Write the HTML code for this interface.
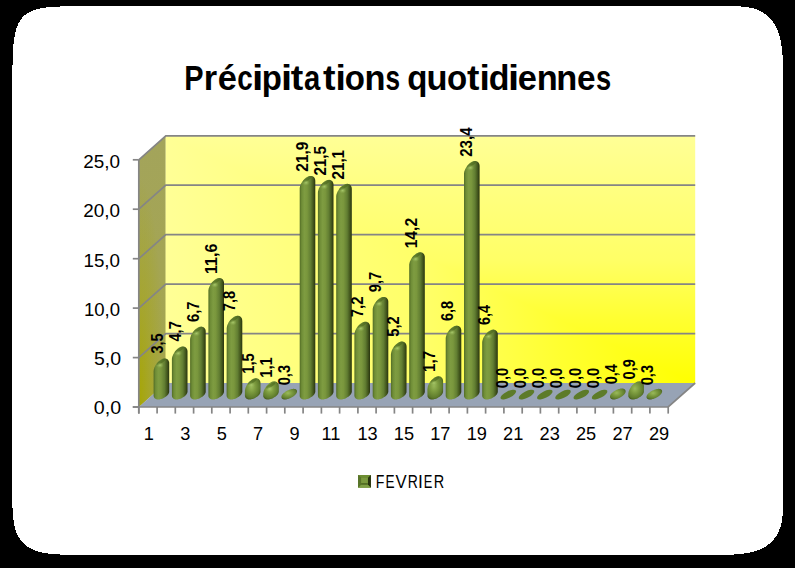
<!DOCTYPE html>
<html><head><meta charset="utf-8"><style>
html,body{margin:0;padding:0;background:#000;}
body{width:795px;height:568px;overflow:hidden;font-family:"Liberation Sans",sans-serif;}
svg{display:block;}
</style></head><body>
<svg width="795" height="568" viewBox="0 0 795 568">
<defs>
<linearGradient id="gside" x1="0" y1="0" x2="0" y2="1">
 <stop offset="0" stop-color="#a3a45b"/><stop offset="1" stop-color="#a5a64c"/>
</linearGradient>
<radialGradient id="gside2" gradientUnits="userSpaceOnUse" cx="0" cy="0" r="1" gradientTransform="translate(139 407) scale(26 230)">
 <stop offset="0" stop-color="#a6a600" stop-opacity="0.95"/><stop offset="0.5" stop-color="#a6a60c" stop-opacity="0.45"/><stop offset="1" stop-color="#a6a60c" stop-opacity="0"/>
</radialGradient>
<linearGradient id="gbackv" x1="0" y1="1" x2="0" y2="0"><stop offset="0" stop-color="#ffff00"/><stop offset="0.05" stop-color="#ffff0a"/><stop offset="0.255" stop-color="#ffff30"/><stop offset="0.5" stop-color="#ffff66"/><stop offset="0.78" stop-color="#ffff80"/><stop offset="0.94" stop-color="#ffff90"/><stop offset="1" stop-color="#ffff96"/></linearGradient>
<linearGradient id="gbackh" x1="1" y1="0" x2="0" y2="0"><stop offset="0" stop-color="#ffff00"/><stop offset="0.05" stop-color="#ffff0a"/><stop offset="0.255" stop-color="#ffff30"/><stop offset="0.5" stop-color="#ffff66"/><stop offset="0.78" stop-color="#ffff80"/><stop offset="0.94" stop-color="#ffff90"/><stop offset="1" stop-color="#ffff96"/></linearGradient>
<linearGradient id="gbar" x1="0" y1="0" x2="1" y2="0">
 <stop offset="0" stop-color="#526c25"/><stop offset="0.13" stop-color="#6f8d37"/><stop offset="0.3" stop-color="#7e9c41"/><stop offset="0.47" stop-color="#7a973d"/><stop offset="0.7" stop-color="#627e32"/><stop offset="0.88" stop-color="#41541c"/><stop offset="1" stop-color="#28340f"/>
</linearGradient>
<radialGradient id="gsmall" cx="0.42" cy="0.4" r="0.65">
 <stop offset="0" stop-color="#9aba5a"/><stop offset="0.4" stop-color="#7c9b3f"/><stop offset="0.8" stop-color="#5f7c2d"/><stop offset="1" stop-color="#43571a"/>
</radialGradient>
<radialGradient id="ghl">
 <stop offset="0" stop-color="#aacb6c" stop-opacity="0.95"/><stop offset="1" stop-color="#8cab50" stop-opacity="0"/>
</radialGradient>
</defs>
<path d="M12.3,137.5 L12.3,87.3 L12.3,77.3 L12.4,70.5 L12.5,65.2 L12.6,60.8 L12.7,57.1 L12.8,53.8 L13.0,50.8 L13.1,48.1 L13.3,45.6 L13.6,43.3 L13.8,41.2 L14.1,39.2 L14.4,37.4 L14.7,35.6 L15.0,34.0 L15.4,32.4 L15.7,30.9 L16.1,29.5 L16.6,28.2 L17.0,26.9 L17.5,25.7 L18.0,24.5 L18.5,23.4 L19.1,22.3 L19.7,21.3 L20.3,20.4 L20.9,19.4 L21.6,18.5 L22.3,17.7 L23.0,16.9 L23.8,16.1 L24.6,15.4 L25.5,14.7 L26.4,14.0 L27.3,13.3 L28.3,12.7 L29.3,12.2 L30.3,11.6 L31.4,11.1 L32.6,10.6 L33.8,10.1 L35.1,9.7 L36.5,9.3 L37.9,8.9 L39.5,8.6 L41.1,8.2 L42.8,7.9 L44.7,7.7 L46.7,7.4 L48.8,7.2 L51.2,7.0 L53.7,6.8 L56.6,6.6 L59.9,6.5 L63.7,6.4 L68.3,6.3 L74.2,6.2 L83.0,6.2 L126.7,6.2 L725.9,6.2 L731.7,6.2 L734.9,6.3 L737.5,6.3 L739.8,6.4 L741.8,6.6 L743.7,6.8 L745.5,7.0 L747.2,7.2 L748.8,7.5 L750.4,7.8 L751.8,8.1 L753.2,8.4 L754.6,8.8 L755.9,9.2 L757.2,9.7 L758.4,10.2 L759.6,10.7 L760.7,11.2 L761.8,11.8 L762.9,12.4 L763.9,13.1 L764.9,13.8 L765.9,14.5 L766.8,15.2 L767.7,16.0 L768.6,16.8 L769.5,17.6 L770.3,18.5 L771.1,19.4 L771.8,20.3 L772.6,21.3 L773.3,22.3 L774.0,23.3 L774.7,24.4 L775.3,25.5 L775.9,26.7 L776.5,27.9 L777.0,29.1 L777.6,30.4 L778.1,31.7 L778.6,33.0 L779.0,34.4 L779.4,35.9 L779.9,37.4 L780.2,38.9 L780.6,40.5 L780.9,42.2 L781.2,43.9 L781.5,45.7 L781.8,47.5 L782.0,49.5 L782.2,51.5 L782.4,53.6 L782.6,55.9 L782.7,58.3 L782.8,61.0 L782.9,63.8 L783.0,67.1 L783.0,71.1 L783.0,78.5 L783.0,499.9 L783.0,505.0 L782.9,507.9 L782.9,510.3 L782.8,512.4 L782.6,514.4 L782.5,516.2 L782.3,517.9 L782.0,519.6 L781.8,521.1 L781.5,522.6 L781.2,524.0 L780.8,525.4 L780.5,526.7 L780.1,528.0 L779.6,529.2 L779.1,530.4 L778.7,531.5 L778.1,532.7 L777.6,533.7 L777.0,534.8 L776.4,535.8 L775.7,536.8 L775.0,537.8 L774.3,538.7 L773.6,539.6 L772.8,540.5 L772.0,541.3 L771.2,542.1 L770.3,542.9 L769.4,543.7 L768.5,544.4 L767.5,545.1 L766.5,545.8 L765.5,546.5 L764.4,547.1 L763.3,547.7 L762.2,548.3 L761.0,548.8 L759.8,549.4 L758.6,549.9 L757.3,550.4 L755.9,550.8 L754.6,551.2 L753.2,551.6 L751.7,552.0 L750.2,552.4 L748.7,552.7 L747.0,553.0 L745.4,553.3 L743.6,553.6 L741.8,553.8 L739.9,554.0 L738.0,554.2 L735.9,554.4 L733.6,554.5 L731.2,554.6 L728.6,554.7 L725.7,554.8 L722.1,554.8 L715.9,554.8 L86.8,554.8 L74.6,554.8 L69.6,554.8 L65.7,554.7 L62.5,554.6 L59.7,554.5 L57.1,554.4 L54.8,554.2 L52.6,554.0 L50.6,553.8 L48.7,553.6 L46.9,553.4 L45.2,553.1 L43.6,552.8 L42.0,552.5 L40.5,552.1 L39.1,551.8 L37.8,551.4 L36.5,550.9 L35.2,550.5 L34.0,550.0 L32.8,549.5 L31.7,549.0 L30.6,548.5 L29.6,547.9 L28.6,547.3 L27.6,546.7 L26.7,546.0 L25.8,545.3 L24.9,544.6 L24.1,543.9 L23.3,543.1 L22.5,542.3 L21.8,541.5 L21.1,540.6 L20.4,539.7 L19.7,538.8 L19.1,537.8 L18.5,536.8 L18.0,535.7 L17.4,534.7 L16.9,533.5 L16.4,532.4 L16.0,531.1 L15.6,529.9 L15.2,528.6 L14.8,527.2 L14.5,525.7 L14.1,524.2 L13.8,522.7 L13.6,521.0 L13.3,519.2 L13.1,517.3 L12.9,515.3 L12.8,513.2 L12.6,510.8 L12.5,508.2 L12.4,505.2 L12.4,501.6 L12.3,496.9 L12.3,485.6Z" fill="#ffffff" shape-rendering="crispEdges"/>
<g font-family="Liberation Sans" font-weight="bold" font-size="32.6" fill="#000"><text transform="translate(184.26 89.7) scale(0.889 1.065)">P</text><text transform="translate(203.83 89.7) scale(1.055 1.065)">r</text><text transform="translate(217.86 89.7) scale(1.054 1.065)">é</text><text transform="translate(237.21 89.7) scale(0.855 1.065)">c</text><text transform="translate(252.05 89.7) scale(1.252 1.065)">i</text><text transform="translate(261.83 89.7) scale(1.011 1.065)">p</text><text transform="translate(280.90 89.7) scale(1.230 1.065)">i</text><text transform="translate(290.74 89.7) scale(1.153 1.065)">t</text><text transform="translate(303.94 89.7) scale(0.897 1.065)">a</text><text transform="translate(322.94 89.7) scale(1.153 1.065)">t</text><text transform="translate(335.40 89.7) scale(1.140 1.065)">i</text><text transform="translate(344.81 89.7) scale(1.013 1.065)">o</text><text transform="translate(364.43 89.7) scale(1.054 1.065)">n</text><text transform="translate(385.38 89.7) scale(0.805 1.065)">s</text><text transform="translate(407.15 89.7) scale(1.012 1.065)">q</text><text transform="translate(426.47 89.7) scale(1.054 1.065)">u</text><text transform="translate(447.01 89.7) scale(1.013 1.065)">o</text><text transform="translate(466.95 89.7) scale(1.143 1.065)">t</text><text transform="translate(479.40 89.7) scale(1.140 1.065)">i</text><text transform="translate(488.71 89.7) scale(1.041 1.065)">d</text><text transform="translate(507.90 89.7) scale(1.230 1.065)">i</text><text transform="translate(517.86 89.7) scale(1.054 1.065)">e</text><text transform="translate(536.63 89.7) scale(1.054 1.065)">n</text><text transform="translate(556.33 89.7) scale(1.054 1.065)">n</text><text transform="translate(577.00 89.7) scale(1.023 1.065)">e</text><text transform="translate(595.94 89.7) scale(0.837 1.065)">s</text></g>
<polygon points="138.8,159.8 165.8,135.8 165.8,383.0 138.8,407.0" fill="url(#gside)"/>
<polygon points="138.8,159.8 165.8,135.8 165.8,383.0 138.8,407.0" fill="url(#gside2)"/>
<rect x="165.8" y="135.8" width="529.4" height="247.2" fill="url(#gbackv)"/>
<polygon points="165.8,135.8 165.8,383.0 695.2,383.0" fill="url(#gbackh)"/>
<polygon points="138.8,407.0 165.8,383.0 695.2,383.0 668.2,407.0" fill="#97a3b5"/>
<polyline points="138.8,357.6 165.8,333.6 695.2,333.6" fill="none" stroke="#858585" stroke-width="1.7"/>
<polyline points="138.8,308.1 165.8,284.1 695.2,284.1" fill="none" stroke="#858585" stroke-width="1.7"/>
<polyline points="138.8,258.7 165.8,234.7 695.2,234.7" fill="none" stroke="#858585" stroke-width="1.7"/>
<polyline points="138.8,209.2 165.8,185.2 695.2,185.2" fill="none" stroke="#858585" stroke-width="1.7"/>
<polyline points="138.8,159.8 165.8,135.8 695.2,135.8" fill="none" stroke="#858585" stroke-width="1.7"/>
<polyline points="132.8,407.0 668.2,407.0 695.2,383.0" fill="none" stroke="#858585" stroke-width="1.7"/>
<line x1="138.8" y1="159.8" x2="138.8" y2="413.6" stroke="#858585" stroke-width="1.7"/>
<line x1="132.8" y1="407.0" x2="138.8" y2="407.0" stroke="#858585" stroke-width="1.7"/>
<text x="93.8" y="413.5" font-family="Liberation Sans" font-size="18.2" fill="#000" textLength="27.3" lengthAdjust="spacingAndGlyphs">0,0</text>
<line x1="132.8" y1="357.6" x2="138.8" y2="357.6" stroke="#858585" stroke-width="1.7"/>
<text x="94.0" y="364.9" font-family="Liberation Sans" font-size="18.2" fill="#000" textLength="27.1" lengthAdjust="spacingAndGlyphs">5,0</text>
<line x1="132.8" y1="308.1" x2="138.8" y2="308.1" stroke="#858585" stroke-width="1.7"/>
<text x="83.9" y="315.9" font-family="Liberation Sans" font-size="18.2" fill="#000" textLength="36.1" lengthAdjust="spacingAndGlyphs">10,0</text>
<line x1="132.8" y1="258.7" x2="138.8" y2="258.7" stroke="#858585" stroke-width="1.7"/>
<text x="83.5" y="266.6" font-family="Liberation Sans" font-size="18.2" fill="#000" textLength="36.5" lengthAdjust="spacingAndGlyphs">15,0</text>
<line x1="132.8" y1="209.2" x2="138.8" y2="209.2" stroke="#858585" stroke-width="1.7"/>
<text x="83.3" y="217.3" font-family="Liberation Sans" font-size="18.2" fill="#000" textLength="36.7" lengthAdjust="spacingAndGlyphs">20,0</text>
<line x1="132.8" y1="159.8" x2="138.8" y2="159.8" stroke="#858585" stroke-width="1.7"/>
<text x="83.2" y="168.0" font-family="Liberation Sans" font-size="18.2" fill="#000" textLength="36.8" lengthAdjust="spacingAndGlyphs">25,0</text>
<line x1="138.8" y1="407.0" x2="138.8" y2="413.6" stroke="#858585" stroke-width="1.7"/>
<line x1="157.1" y1="407.0" x2="157.1" y2="413.6" stroke="#858585" stroke-width="1.7"/>
<line x1="175.3" y1="407.0" x2="175.3" y2="413.6" stroke="#858585" stroke-width="1.7"/>
<line x1="193.6" y1="407.0" x2="193.6" y2="413.6" stroke="#858585" stroke-width="1.7"/>
<line x1="211.8" y1="407.0" x2="211.8" y2="413.6" stroke="#858585" stroke-width="1.7"/>
<line x1="230.1" y1="407.0" x2="230.1" y2="413.6" stroke="#858585" stroke-width="1.7"/>
<line x1="248.3" y1="407.0" x2="248.3" y2="413.6" stroke="#858585" stroke-width="1.7"/>
<line x1="266.6" y1="407.0" x2="266.6" y2="413.6" stroke="#858585" stroke-width="1.7"/>
<line x1="284.8" y1="407.0" x2="284.8" y2="413.6" stroke="#858585" stroke-width="1.7"/>
<line x1="303.1" y1="407.0" x2="303.1" y2="413.6" stroke="#858585" stroke-width="1.7"/>
<line x1="321.4" y1="407.0" x2="321.4" y2="413.6" stroke="#858585" stroke-width="1.7"/>
<line x1="339.6" y1="407.0" x2="339.6" y2="413.6" stroke="#858585" stroke-width="1.7"/>
<line x1="357.9" y1="407.0" x2="357.9" y2="413.6" stroke="#858585" stroke-width="1.7"/>
<line x1="376.1" y1="407.0" x2="376.1" y2="413.6" stroke="#858585" stroke-width="1.7"/>
<line x1="394.4" y1="407.0" x2="394.4" y2="413.6" stroke="#858585" stroke-width="1.7"/>
<line x1="412.6" y1="407.0" x2="412.6" y2="413.6" stroke="#858585" stroke-width="1.7"/>
<line x1="430.9" y1="407.0" x2="430.9" y2="413.6" stroke="#858585" stroke-width="1.7"/>
<line x1="449.1" y1="407.0" x2="449.1" y2="413.6" stroke="#858585" stroke-width="1.7"/>
<line x1="467.4" y1="407.0" x2="467.4" y2="413.6" stroke="#858585" stroke-width="1.7"/>
<line x1="485.6" y1="407.0" x2="485.6" y2="413.6" stroke="#858585" stroke-width="1.7"/>
<line x1="503.9" y1="407.0" x2="503.9" y2="413.6" stroke="#858585" stroke-width="1.7"/>
<line x1="522.2" y1="407.0" x2="522.2" y2="413.6" stroke="#858585" stroke-width="1.7"/>
<line x1="540.4" y1="407.0" x2="540.4" y2="413.6" stroke="#858585" stroke-width="1.7"/>
<line x1="558.7" y1="407.0" x2="558.7" y2="413.6" stroke="#858585" stroke-width="1.7"/>
<line x1="576.9" y1="407.0" x2="576.9" y2="413.6" stroke="#858585" stroke-width="1.7"/>
<line x1="595.2" y1="407.0" x2="595.2" y2="413.6" stroke="#858585" stroke-width="1.7"/>
<line x1="613.4" y1="407.0" x2="613.4" y2="413.6" stroke="#858585" stroke-width="1.7"/>
<line x1="631.7" y1="407.0" x2="631.7" y2="413.6" stroke="#858585" stroke-width="1.7"/>
<line x1="649.9" y1="407.0" x2="649.9" y2="413.6" stroke="#858585" stroke-width="1.7"/>
<line x1="668.2" y1="407.0" x2="668.2" y2="413.6" stroke="#858585" stroke-width="1.7"/>
<text x="148.8" y="440.2" font-family="Liberation Sans" font-size="18.2" text-anchor="middle" fill="#000">1</text>
<text x="185.2" y="440.2" font-family="Liberation Sans" font-size="18.2" text-anchor="middle" fill="#000">3</text>
<text x="221.7" y="440.2" font-family="Liberation Sans" font-size="18.2" text-anchor="middle" fill="#000">5</text>
<text x="258.1" y="440.2" font-family="Liberation Sans" font-size="18.2" text-anchor="middle" fill="#000">7</text>
<text x="294.6" y="440.2" font-family="Liberation Sans" font-size="18.2" text-anchor="middle" fill="#000">9</text>
<text x="331.0" y="440.2" font-family="Liberation Sans" font-size="18.2" text-anchor="middle" fill="#000">11</text>
<text x="367.5" y="440.2" font-family="Liberation Sans" font-size="18.2" text-anchor="middle" fill="#000">13</text>
<text x="403.9" y="440.2" font-family="Liberation Sans" font-size="18.2" text-anchor="middle" fill="#000">15</text>
<text x="440.3" y="440.2" font-family="Liberation Sans" font-size="18.2" text-anchor="middle" fill="#000">17</text>
<text x="476.8" y="440.2" font-family="Liberation Sans" font-size="18.2" text-anchor="middle" fill="#000">19</text>
<text x="513.2" y="440.2" font-family="Liberation Sans" font-size="18.2" text-anchor="middle" fill="#000">21</text>
<text x="549.7" y="440.2" font-family="Liberation Sans" font-size="18.2" text-anchor="middle" fill="#000">23</text>
<text x="586.1" y="440.2" font-family="Liberation Sans" font-size="18.2" text-anchor="middle" fill="#000">25</text>
<text x="622.6" y="440.2" font-family="Liberation Sans" font-size="18.2" text-anchor="middle" fill="#000">27</text>
<text x="659.0" y="440.2" font-family="Liberation Sans" font-size="18.2" text-anchor="middle" fill="#000">29</text>
<path d="M169.2,363.5 L169.2,391.7 L169.2,391.9 L169.2,392.1 L169.1,392.4 L169.1,392.6 L169.0,392.8 L168.9,393.1 L168.8,393.3 L168.7,393.6 L168.6,393.8 L168.4,394.1 L168.2,394.4 L167.9,394.7 L167.6,395.1 L167.3,395.4 L166.9,395.8 L166.4,396.2 L165.8,396.7 L165.2,397.1 L164.5,397.6 L163.7,398.0 L162.9,398.4 L162.1,398.7 L161.4,398.9 L160.7,399.1 L160.1,399.3 L159.6,399.4 L159.1,399.5 L158.6,399.5 L158.2,399.5 L157.9,399.5 L157.5,399.5 L157.2,399.4 L156.9,399.4 L156.7,399.3 L156.4,399.2 L156.2,399.2 L156.0,399.1 L155.8,399.0 L155.6,398.9 L155.4,398.7 L155.2,398.6 L155.0,398.5 L154.9,398.4 L154.7,398.2 L154.6,398.1 L154.5,397.9 L154.3,397.8 L154.2,397.6 L154.1,397.4 L154.0,397.3 L154.0,397.1 L153.9,396.9 L153.8,396.7 L153.8,396.5 L153.7,396.3 L153.7,396.1 L153.6,395.9 L153.6,395.7 L153.6,395.5 L153.6,371.0 L153.7,370.6 L153.7,370.1 L153.8,369.5 L154.0,368.9 L154.2,368.3 L154.4,367.6 L154.7,366.9 L155.1,366.1 L155.5,365.3 L156.0,364.5 L156.6,363.7 L157.1,362.9 L157.7,362.2 L158.3,361.6 L158.9,361.0 L159.5,360.5 L160.1,360.1 L160.6,359.8 L161.1,359.5 L161.5,359.2 L162.0,359.0 L162.4,358.8 L162.7,358.7 L163.1,358.6 L163.4,358.5 L163.8,358.5 L164.1,358.4 L164.4,358.4 L164.6,358.4 L164.9,358.4 L165.2,358.4 L165.4,358.4 L165.7,358.5 L165.9,358.5 L166.1,358.6 L166.3,358.7 L166.5,358.8 L166.7,358.9 L166.9,359.0 L167.1,359.1 L167.3,359.2 L167.5,359.3 L167.7,359.5 L167.8,359.6 L168.0,359.8 L168.1,360.0 L168.3,360.2 L168.4,360.4 L168.5,360.6 L168.6,360.8 L168.7,361.0 L168.8,361.3 L168.9,361.5 L169.0,361.8 L169.1,362.1 L169.2,362.4 L169.2,362.7 L169.2,363.1Z" fill="url(#gbar)"/>
<ellipse cx="161.1" cy="361.7" rx="5.2" ry="1.5" transform="rotate(-33 161.1 361.7)" fill="#46601a" opacity="0.55"/>
<ellipse cx="160.0" cy="365.2" rx="3.8" ry="3.0" fill="url(#ghl)"/>
<text transform="translate(162.68 353.47) rotate(-90) scale(0.951 1.12)" font-family="Liberation Sans" font-weight="bold" font-size="15.2" fill="#000">3,5</text>
<path d="M187.5,351.6 L187.5,391.7 L187.5,391.9 L187.4,392.1 L187.4,392.4 L187.3,392.6 L187.3,392.8 L187.2,393.1 L187.1,393.3 L187.0,393.6 L186.8,393.8 L186.6,394.1 L186.4,394.4 L186.2,394.7 L185.9,395.1 L185.6,395.4 L185.1,395.8 L184.7,396.2 L184.1,396.7 L183.5,397.1 L182.7,397.6 L182.0,398.0 L181.2,398.4 L180.4,398.7 L179.7,398.9 L179.0,399.1 L178.4,399.3 L177.8,399.4 L177.3,399.5 L176.9,399.5 L176.5,399.5 L176.1,399.5 L175.8,399.5 L175.5,399.4 L175.2,399.4 L174.9,399.3 L174.7,399.2 L174.4,399.2 L174.2,399.1 L174.0,399.0 L173.8,398.9 L173.6,398.7 L173.5,398.6 L173.3,398.5 L173.1,398.4 L173.0,398.2 L172.9,398.1 L172.7,397.9 L172.6,397.8 L172.5,397.6 L172.4,397.4 L172.3,397.3 L172.2,397.1 L172.1,396.9 L172.1,396.7 L172.0,396.5 L172.0,396.3 L171.9,396.1 L171.9,395.9 L171.9,395.7 L171.9,395.5 L171.9,359.1 L171.9,358.7 L172.0,358.2 L172.1,357.6 L172.2,357.0 L172.4,356.4 L172.7,355.7 L173.0,354.9 L173.3,354.2 L173.8,353.4 L174.3,352.6 L174.8,351.8 L175.4,351.0 L176.0,350.3 L176.6,349.7 L177.2,349.1 L177.8,348.6 L178.3,348.2 L178.8,347.8 L179.3,347.5 L179.8,347.3 L180.2,347.1 L180.6,346.9 L181.0,346.8 L181.4,346.7 L181.7,346.6 L182.0,346.5 L182.3,346.5 L182.6,346.5 L182.9,346.5 L183.2,346.5 L183.4,346.5 L183.7,346.5 L183.9,346.6 L184.1,346.6 L184.4,346.7 L184.6,346.8 L184.8,346.9 L185.0,347.0 L185.2,347.1 L185.4,347.2 L185.6,347.3 L185.7,347.4 L185.9,347.6 L186.1,347.7 L186.2,347.9 L186.4,348.1 L186.5,348.3 L186.6,348.5 L186.8,348.7 L186.9,348.9 L187.0,349.1 L187.1,349.4 L187.2,349.6 L187.3,349.9 L187.3,350.2 L187.4,350.5 L187.5,350.8 L187.5,351.2Z" fill="url(#gbar)"/>
<ellipse cx="179.4" cy="349.8" rx="5.2" ry="1.5" transform="rotate(-33 179.4 349.8)" fill="#46601a" opacity="0.55"/>
<ellipse cx="178.3" cy="353.3" rx="3.8" ry="3.0" fill="url(#ghl)"/>
<text transform="translate(180.86 341.42) rotate(-90) scale(0.951 1.12)" font-family="Liberation Sans" font-weight="bold" font-size="15.2" fill="#000">4,7</text>
<path d="M205.7,331.8 L205.7,391.7 L205.7,391.9 L205.7,392.1 L205.7,392.4 L205.6,392.6 L205.5,392.8 L205.4,393.1 L205.3,393.3 L205.2,393.6 L205.1,393.8 L204.9,394.1 L204.7,394.4 L204.4,394.7 L204.2,395.1 L203.8,395.4 L203.4,395.8 L202.9,396.2 L202.4,396.7 L201.7,397.1 L201.0,397.6 L200.2,398.0 L199.4,398.4 L198.7,398.7 L197.9,398.9 L197.2,399.1 L196.6,399.3 L196.1,399.4 L195.6,399.5 L195.1,399.5 L194.7,399.5 L194.4,399.5 L194.0,399.5 L193.7,399.4 L193.4,399.4 L193.2,399.3 L192.9,399.2 L192.7,399.2 L192.5,399.1 L192.3,399.0 L192.1,398.9 L191.9,398.7 L191.7,398.6 L191.6,398.5 L191.4,398.4 L191.2,398.2 L191.1,398.1 L191.0,397.9 L190.9,397.8 L190.7,397.6 L190.6,397.4 L190.5,397.3 L190.5,397.1 L190.4,396.9 L190.3,396.7 L190.3,396.5 L190.2,396.3 L190.2,396.1 L190.2,395.9 L190.1,395.7 L190.1,395.5 L190.1,339.3 L190.2,338.8 L190.2,338.3 L190.3,337.8 L190.5,337.2 L190.7,336.5 L190.9,335.8 L191.2,335.1 L191.6,334.3 L192.0,333.5 L192.5,332.7 L193.1,331.9 L193.7,331.2 L194.2,330.5 L194.9,329.8 L195.4,329.3 L196.0,328.8 L196.6,328.4 L197.1,328.0 L197.6,327.7 L198.0,327.5 L198.5,327.3 L198.9,327.1 L199.3,327.0 L199.6,326.8 L199.9,326.8 L200.3,326.7 L200.6,326.7 L200.9,326.6 L201.1,326.6 L201.4,326.6 L201.7,326.7 L201.9,326.7 L202.2,326.7 L202.4,326.8 L202.6,326.9 L202.8,326.9 L203.0,327.0 L203.2,327.1 L203.4,327.2 L203.6,327.3 L203.8,327.5 L204.0,327.6 L204.2,327.8 L204.3,327.9 L204.5,328.1 L204.6,328.2 L204.8,328.4 L204.9,328.6 L205.0,328.8 L205.1,329.0 L205.3,329.3 L205.4,329.5 L205.5,329.8 L205.5,330.1 L205.6,330.4 L205.7,330.7 L205.7,331.0 L205.7,331.4Z" fill="url(#gbar)"/>
<ellipse cx="197.6" cy="329.9" rx="5.2" ry="1.5" transform="rotate(-33 197.6 329.9)" fill="#46601a" opacity="0.55"/>
<ellipse cx="196.5" cy="333.4" rx="3.8" ry="3.0" fill="url(#ghl)"/>
<text transform="translate(199.03 322.03) rotate(-90) scale(0.970 1.12)" font-family="Liberation Sans" font-weight="bold" font-size="15.2" fill="#000">6,7</text>
<path d="M224.0,283.2 L224.0,391.7 L224.0,391.9 L223.9,392.1 L223.9,392.4 L223.9,392.6 L223.8,392.8 L223.7,393.1 L223.6,393.3 L223.5,393.6 L223.3,393.8 L223.1,394.1 L222.9,394.4 L222.7,394.7 L222.4,395.1 L222.1,395.4 L221.7,395.8 L221.2,396.2 L220.6,396.7 L220.0,397.1 L219.2,397.6 L218.5,398.0 L217.7,398.4 L216.9,398.7 L216.2,398.9 L215.5,399.1 L214.9,399.3 L214.3,399.4 L213.8,399.5 L213.4,399.5 L213.0,399.5 L212.6,399.5 L212.3,399.5 L212.0,399.4 L211.7,399.4 L211.4,399.3 L211.2,399.2 L211.0,399.2 L210.7,399.1 L210.5,399.0 L210.3,398.9 L210.2,398.7 L210.0,398.6 L209.8,398.5 L209.7,398.4 L209.5,398.2 L209.4,398.1 L209.2,397.9 L209.1,397.8 L209.0,397.6 L208.9,397.4 L208.8,397.3 L208.7,397.1 L208.6,396.9 L208.6,396.7 L208.5,396.5 L208.5,396.3 L208.4,396.1 L208.4,395.9 L208.4,395.7 L208.4,395.5 L208.4,290.7 L208.4,290.2 L208.5,289.7 L208.6,289.2 L208.7,288.6 L208.9,287.9 L209.2,287.2 L209.5,286.5 L209.9,285.7 L210.3,284.9 L210.8,284.1 L211.3,283.3 L211.9,282.6 L212.5,281.9 L213.1,281.2 L213.7,280.7 L214.3,280.2 L214.8,279.8 L215.3,279.4 L215.8,279.1 L216.3,278.9 L216.7,278.6 L217.1,278.5 L217.5,278.3 L217.9,278.2 L218.2,278.2 L218.5,278.1 L218.8,278.1 L219.1,278.0 L219.4,278.0 L219.7,278.0 L219.9,278.1 L220.2,278.1 L220.4,278.1 L220.6,278.2 L220.9,278.3 L221.1,278.3 L221.3,278.4 L221.5,278.5 L221.7,278.6 L221.9,278.7 L222.1,278.9 L222.2,279.0 L222.4,279.1 L222.6,279.3 L222.7,279.5 L222.9,279.6 L223.0,279.8 L223.2,280.0 L223.3,280.2 L223.4,280.4 L223.5,280.7 L223.6,280.9 L223.7,281.2 L223.8,281.5 L223.9,281.7 L223.9,282.1 L224.0,282.4 L224.0,282.8Z" fill="url(#gbar)"/>
<ellipse cx="215.9" cy="281.3" rx="5.2" ry="1.5" transform="rotate(-33 215.9 281.3)" fill="#46601a" opacity="0.55"/>
<ellipse cx="214.8" cy="284.8" rx="3.8" ry="3.0" fill="url(#ghl)"/>
<text transform="translate(217.20 274.06) rotate(-90) scale(1.059 1.12)" font-family="Liberation Sans" font-weight="bold" font-size="15.2" fill="#000">11,6</text>
<path d="M242.3,320.8 L242.3,391.7 L242.2,391.9 L242.2,392.1 L242.2,392.4 L242.1,392.6 L242.0,392.8 L242.0,393.1 L241.8,393.3 L241.7,393.6 L241.6,393.8 L241.4,394.1 L241.2,394.4 L241.0,394.7 L240.7,395.1 L240.3,395.4 L239.9,395.8 L239.4,396.2 L238.9,396.7 L238.2,397.1 L237.5,397.6 L236.7,398.0 L235.9,398.4 L235.2,398.7 L234.4,398.9 L233.7,399.1 L233.1,399.3 L232.6,399.4 L232.1,399.5 L231.6,399.5 L231.2,399.5 L230.9,399.5 L230.5,399.5 L230.2,399.4 L230.0,399.4 L229.7,399.3 L229.4,399.2 L229.2,399.2 L229.0,399.1 L228.8,399.0 L228.6,398.9 L228.4,398.7 L228.2,398.6 L228.1,398.5 L227.9,398.4 L227.8,398.2 L227.6,398.1 L227.5,397.9 L227.4,397.8 L227.3,397.6 L227.2,397.4 L227.1,397.3 L227.0,397.1 L226.9,396.9 L226.8,396.7 L226.8,396.5 L226.7,396.3 L226.7,396.1 L226.7,395.9 L226.6,395.7 L226.6,395.5 L226.7,328.4 L226.7,327.9 L226.8,327.4 L226.9,326.9 L227.0,326.3 L227.2,325.6 L227.4,324.9 L227.7,324.2 L228.1,323.4 L228.5,322.6 L229.0,321.8 L229.6,321.0 L230.2,320.3 L230.8,319.6 L231.4,318.9 L232.0,318.4 L232.5,317.9 L233.1,317.5 L233.6,317.1 L234.1,316.8 L234.6,316.5 L235.0,316.3 L235.4,316.2 L235.8,316.0 L236.1,315.9 L236.5,315.9 L236.8,315.8 L237.1,315.8 L237.4,315.7 L237.7,315.7 L237.9,315.7 L238.2,315.8 L238.4,315.8 L238.7,315.8 L238.9,315.9 L239.1,316.0 L239.3,316.0 L239.6,316.1 L239.8,316.2 L240.0,316.3 L240.1,316.4 L240.3,316.6 L240.5,316.7 L240.7,316.8 L240.8,317.0 L241.0,317.2 L241.1,317.3 L241.3,317.5 L241.4,317.7 L241.5,317.9 L241.7,318.1 L241.8,318.4 L241.9,318.6 L242.0,318.9 L242.0,319.1 L242.1,319.4 L242.2,319.8 L242.2,320.1 L242.2,320.5Z" fill="url(#gbar)"/>
<ellipse cx="234.1" cy="319.0" rx="5.2" ry="1.5" transform="rotate(-33 234.1 319.0)" fill="#46601a" opacity="0.55"/>
<ellipse cx="233.0" cy="322.5" rx="3.8" ry="3.0" fill="url(#ghl)"/>
<text transform="translate(235.38 311.25) rotate(-90) scale(0.965 1.12)" font-family="Liberation Sans" font-weight="bold" font-size="15.2" fill="#000">7,8</text>
<path d="M260.5,383.3 L260.5,391.7 L260.5,391.9 L260.5,392.1 L260.4,392.4 L260.4,392.6 L260.3,392.8 L260.2,393.1 L260.1,393.3 L260.0,393.6 L259.8,393.8 L259.7,394.1 L259.5,394.4 L259.2,394.7 L258.9,395.1 L258.6,395.4 L258.2,395.8 L257.7,396.2 L257.1,396.7 L256.5,397.1 L255.8,397.6 L255.0,398.0 L254.2,398.4 L253.4,398.7 L252.7,398.9 L252.0,399.1 L251.4,399.3 L250.8,399.4 L250.3,399.5 L249.9,399.5 L249.5,399.5 L249.1,399.5 L248.8,399.5 L248.5,399.4 L248.2,399.4 L247.9,399.3 L247.7,399.2 L247.5,399.2 L247.3,399.1 L247.0,399.0 L246.8,398.9 L246.7,398.7 L246.5,398.6 L246.3,398.5 L246.2,398.4 L246.0,398.2 L245.9,398.1 L245.7,397.9 L245.6,397.8 L245.5,397.6 L245.4,397.4 L245.3,397.3 L245.2,397.1 L245.2,396.9 L245.1,396.7 L245.0,396.5 L245.0,396.3 L244.9,396.1 L244.9,395.9 L244.9,395.7 L244.9,391.3 L244.9,390.9 L244.9,390.4 L245.0,389.9 L245.1,389.4 L245.3,388.8 L245.4,388.1 L245.7,387.4 L246.0,386.7 L246.4,385.9 L246.8,385.1 L247.3,384.3 L247.8,383.5 L248.4,382.8 L249.0,382.1 L249.6,381.4 L250.2,380.9 L250.8,380.4 L251.3,380.0 L251.9,379.6 L252.3,379.3 L252.8,379.0 L253.2,378.8 L253.6,378.7 L254.0,378.5 L254.4,378.4 L254.7,378.4 L255.0,378.3 L255.3,378.3 L255.6,378.2 L255.9,378.2 L256.2,378.2 L256.4,378.2 L256.7,378.3 L256.9,378.3 L257.2,378.4 L257.4,378.4 L257.6,378.5 L257.8,378.6 L258.0,378.7 L258.2,378.8 L258.4,378.9 L258.6,379.1 L258.8,379.2 L258.9,379.3 L259.1,379.5 L259.2,379.7 L259.4,379.8 L259.5,380.0 L259.7,380.2 L259.8,380.4 L259.9,380.6 L260.0,380.9 L260.1,381.1 L260.2,381.4 L260.3,381.6 L260.4,381.9 L260.4,382.3 L260.5,382.6 L260.5,383.0Z" fill="url(#gsmall)"/>
<ellipse cx="252.4" cy="381.5" rx="5.2" ry="1.5" transform="rotate(-33 252.4 381.5)" fill="#46601a" opacity="0.55"/>
<ellipse cx="251.3" cy="385.0" rx="3.8" ry="3.0" fill="url(#ghl)"/>
<text transform="translate(253.55 373.85) rotate(-90) scale(0.980 1.12)" font-family="Liberation Sans" font-weight="bold" font-size="15.2" fill="#000">1,5</text>
<path d="M278.8,386.4 L278.8,391.7 L278.7,391.9 L278.7,392.1 L278.7,392.4 L278.6,392.6 L278.5,392.8 L278.5,393.1 L278.4,393.3 L278.2,393.6 L278.1,393.8 L277.9,394.1 L277.7,394.4 L277.5,394.7 L277.2,395.1 L276.8,395.4 L276.4,395.8 L275.9,396.2 L275.4,396.7 L274.7,397.1 L274.0,397.6 L273.2,398.0 L272.5,398.4 L271.7,398.7 L270.9,398.9 L270.3,399.1 L269.6,399.3 L269.1,399.4 L268.6,399.5 L268.1,399.5 L267.7,399.5 L267.4,399.5 L267.1,399.5 L266.7,399.4 L266.5,399.4 L266.2,399.3 L266.0,399.2 L265.7,399.2 L265.5,399.1 L265.3,399.0 L265.1,398.9 L264.9,398.7 L264.7,398.6 L264.6,398.5 L264.4,398.4 L264.3,398.2 L264.1,398.1 L264.0,397.9 L263.9,397.8 L263.8,397.6 L263.7,397.4 L263.6,397.3 L263.5,397.1 L263.4,396.9 L263.3,396.7 L263.3,396.5 L263.2,396.3 L263.2,396.1 L263.2,395.9 L263.2,395.7 L263.2,394.4 L263.2,394.0 L263.2,393.5 L263.3,393.0 L263.4,392.4 L263.5,391.8 L263.7,391.2 L263.9,390.5 L264.3,389.8 L264.6,389.0 L265.1,388.2 L265.6,387.4 L266.1,386.6 L266.7,385.8 L267.3,385.1 L267.9,384.5 L268.5,383.9 L269.0,383.5 L269.6,383.0 L270.1,382.7 L270.6,382.4 L271.1,382.1 L271.5,381.9 L271.9,381.8 L272.3,381.6 L272.6,381.5 L273.0,381.4 L273.3,381.4 L273.6,381.3 L273.9,381.3 L274.2,381.3 L274.4,381.3 L274.7,381.3 L274.9,381.4 L275.2,381.4 L275.4,381.5 L275.6,381.5 L275.9,381.6 L276.1,381.7 L276.3,381.8 L276.5,381.9 L276.7,382.0 L276.8,382.1 L277.0,382.3 L277.2,382.4 L277.3,382.6 L277.5,382.7 L277.6,382.9 L277.8,383.1 L277.9,383.3 L278.1,383.5 L278.2,383.7 L278.3,383.9 L278.4,384.2 L278.5,384.4 L278.6,384.7 L278.6,385.0 L278.7,385.3 L278.7,385.7 L278.8,386.0Z" fill="url(#gsmall)"/>
<ellipse cx="270.7" cy="385.5" rx="5.2" ry="1.5" transform="rotate(-33 270.7 385.5)" fill="#46601a" opacity="0.55"/>
<ellipse cx="269.6" cy="389.0" rx="3.8" ry="3.0" fill="url(#ghl)"/>
<text transform="translate(271.72 377.80) rotate(-90) scale(0.980 1.12)" font-family="Liberation Sans" font-weight="bold" font-size="15.2" fill="#000">1,1</text>
<path d="M297.0,391.4 L297.0,391.5 L297.0,391.7 L297.0,391.8 L297.0,392.0 L296.9,392.2 L296.9,392.3 L296.8,392.5 L296.7,392.7 L296.6,392.9 L296.5,393.2 L296.3,393.4 L296.1,393.7 L295.9,394.0 L295.6,394.4 L295.2,394.8 L294.8,395.2 L294.2,395.7 L293.6,396.2 L292.8,396.7 L291.9,397.2 L291.0,397.7 L290.1,398.2 L289.2,398.6 L288.3,398.9 L287.5,399.1 L286.8,399.3 L286.2,399.4 L285.6,399.5 L285.2,399.5 L284.8,399.5 L284.5,399.5 L284.2,399.5 L283.9,399.4 L283.6,399.4 L283.4,399.3 L283.2,399.3 L283.1,399.2 L282.9,399.2 L282.8,399.1 L282.6,399.0 L282.5,398.9 L282.4,398.9 L282.3,398.8 L282.2,398.7 L282.1,398.6 L282.0,398.5 L281.9,398.4 L281.8,398.3 L281.8,398.2 L281.7,398.1 L281.7,398.0 L281.6,397.9 L281.6,397.8 L281.5,397.7 L281.5,397.6 L281.5,397.4 L281.4,397.3 L281.4,397.2 L281.4,397.1 L281.4,396.9 L281.4,396.8 L281.4,396.6 L281.4,396.5 L281.5,396.3 L281.5,396.2 L281.6,396.0 L281.6,395.8 L281.7,395.6 L281.8,395.4 L281.9,395.1 L282.1,394.9 L282.3,394.6 L282.5,394.3 L282.8,393.9 L283.2,393.6 L283.7,393.1 L284.2,392.7 L284.9,392.2 L285.6,391.6 L286.5,391.1 L287.4,390.6 L288.3,390.2 L289.3,389.8 L290.1,389.5 L290.9,389.2 L291.6,389.1 L292.2,388.9 L292.8,388.9 L293.2,388.8 L293.6,388.8 L294.0,388.8 L294.3,388.9 L294.5,388.9 L294.8,388.9 L295.0,389.0 L295.2,389.0 L295.4,389.1 L295.5,389.2 L295.7,389.2 L295.8,389.3 L295.9,389.4 L296.0,389.5 L296.1,389.6 L296.2,389.6 L296.3,389.7 L296.4,389.8 L296.5,389.9 L296.6,390.0 L296.6,390.1 L296.7,390.2 L296.8,390.3 L296.8,390.4 L296.9,390.5 L296.9,390.6 L296.9,390.8 L297.0,390.9 L297.0,391.0 L297.0,391.1 L297.0,391.3Z" fill="url(#gsmall)"/>
<text transform="translate(289.89 385.31) rotate(-90) scale(0.965 1.12)" font-family="Liberation Sans" font-weight="bold" font-size="15.2" fill="#000">0,3</text>
<path d="M315.3,181.0 L315.3,391.7 L315.3,391.9 L315.2,392.1 L315.2,392.4 L315.1,392.6 L315.1,392.8 L315.0,393.1 L314.9,393.3 L314.7,393.6 L314.6,393.8 L314.4,394.1 L314.2,394.4 L314.0,394.7 L313.7,395.1 L313.3,395.4 L312.9,395.8 L312.5,396.2 L311.9,396.7 L311.2,397.1 L310.5,397.6 L309.8,398.0 L309.0,398.4 L308.2,398.7 L307.4,398.9 L306.8,399.1 L306.1,399.3 L305.6,399.4 L305.1,399.5 L304.7,399.5 L304.3,399.5 L303.9,399.5 L303.6,399.5 L303.3,399.4 L303.0,399.4 L302.7,399.3 L302.5,399.2 L302.2,399.2 L302.0,399.1 L301.8,399.0 L301.6,398.9 L301.4,398.7 L301.3,398.6 L301.1,398.5 L300.9,398.4 L300.8,398.2 L300.6,398.1 L300.5,397.9 L300.4,397.8 L300.3,397.6 L300.2,397.4 L300.1,397.3 L300.0,397.1 L299.9,396.9 L299.9,396.7 L299.8,396.5 L299.7,396.3 L299.7,396.1 L299.7,395.9 L299.7,395.7 L299.7,395.5 L299.7,188.5 L299.7,188.0 L299.8,187.5 L299.9,187.0 L300.0,186.4 L300.2,185.8 L300.5,185.1 L300.8,184.3 L301.1,183.5 L301.6,182.7 L302.1,181.9 L302.6,181.2 L303.2,180.4 L303.8,179.7 L304.4,179.1 L305.0,178.5 L305.6,178.0 L306.1,177.6 L306.6,177.2 L307.1,176.9 L307.6,176.7 L308.0,176.5 L308.4,176.3 L308.8,176.2 L309.1,176.1 L309.5,176.0 L309.8,175.9 L310.1,175.9 L310.4,175.9 L310.7,175.9 L310.9,175.9 L311.2,175.9 L311.5,175.9 L311.7,176.0 L311.9,176.0 L312.1,176.1 L312.4,176.2 L312.6,176.2 L312.8,176.3 L313.0,176.4 L313.2,176.6 L313.3,176.7 L313.5,176.8 L313.7,177.0 L313.9,177.1 L314.0,177.3 L314.2,177.5 L314.3,177.6 L314.4,177.8 L314.6,178.0 L314.7,178.3 L314.8,178.5 L314.9,178.7 L315.0,179.0 L315.1,179.3 L315.1,179.6 L315.2,179.9 L315.2,180.2 L315.3,180.6Z" fill="url(#gbar)"/>
<ellipse cx="307.2" cy="179.2" rx="5.2" ry="1.5" transform="rotate(-33 307.2 179.2)" fill="#46601a" opacity="0.55"/>
<ellipse cx="306.1" cy="182.7" rx="3.8" ry="3.0" fill="url(#ghl)"/>
<text transform="translate(308.07 171.66) rotate(-90) scale(1.011 1.12)" font-family="Liberation Sans" font-weight="bold" font-size="15.2" fill="#000">21,9</text>
<path d="M333.5,184.9 L333.5,391.7 L333.5,391.9 L333.5,392.1 L333.4,392.4 L333.4,392.6 L333.3,392.8 L333.2,393.1 L333.1,393.3 L333.0,393.6 L332.9,393.8 L332.7,394.1 L332.5,394.4 L332.2,394.7 L331.9,395.1 L331.6,395.4 L331.2,395.8 L330.7,396.2 L330.1,396.7 L329.5,397.1 L328.8,397.6 L328.0,398.0 L327.2,398.4 L326.4,398.7 L325.7,398.9 L325.0,399.1 L324.4,399.3 L323.8,399.4 L323.4,399.5 L322.9,399.5 L322.5,399.5 L322.1,399.5 L321.8,399.5 L321.5,399.4 L321.2,399.4 L321.0,399.3 L320.7,399.2 L320.5,399.2 L320.3,399.1 L320.1,399.0 L319.9,398.9 L319.7,398.7 L319.5,398.6 L319.3,398.5 L319.2,398.4 L319.0,398.2 L318.9,398.1 L318.8,397.9 L318.6,397.8 L318.5,397.6 L318.4,397.4 L318.3,397.3 L318.2,397.1 L318.2,396.9 L318.1,396.7 L318.0,396.5 L318.0,396.3 L318.0,396.1 L317.9,395.9 L317.9,395.7 L317.9,395.5 L317.9,192.5 L318.0,192.0 L318.0,191.5 L318.1,191.0 L318.3,190.4 L318.5,189.7 L318.7,189.0 L319.0,188.3 L319.4,187.5 L319.8,186.7 L320.3,185.9 L320.9,185.1 L321.4,184.4 L322.0,183.7 L322.6,183.0 L323.2,182.5 L323.8,182.0 L324.4,181.6 L324.9,181.2 L325.4,180.9 L325.8,180.6 L326.3,180.4 L326.7,180.3 L327.0,180.1 L327.4,180.0 L327.7,180.0 L328.1,179.9 L328.4,179.9 L328.7,179.8 L328.9,179.8 L329.2,179.8 L329.5,179.8 L329.7,179.9 L329.9,179.9 L330.2,180.0 L330.4,180.0 L330.6,180.1 L330.8,180.2 L331.0,180.3 L331.2,180.4 L331.4,180.5 L331.6,180.7 L331.8,180.8 L331.9,180.9 L332.1,181.1 L332.3,181.3 L332.4,181.4 L332.6,181.6 L332.7,181.8 L332.8,182.0 L332.9,182.2 L333.0,182.5 L333.1,182.7 L333.2,183.0 L333.3,183.2 L333.4,183.5 L333.4,183.9 L333.5,184.2 L333.5,184.6Z" fill="url(#gbar)"/>
<ellipse cx="325.4" cy="183.1" rx="5.2" ry="1.5" transform="rotate(-33 325.4 183.1)" fill="#46601a" opacity="0.55"/>
<ellipse cx="324.3" cy="186.6" rx="3.8" ry="3.0" fill="url(#ghl)"/>
<text transform="translate(326.24 175.61) rotate(-90) scale(1.003 1.12)" font-family="Liberation Sans" font-weight="bold" font-size="15.2" fill="#000">21,5</text>
<path d="M351.8,188.9 L351.8,391.7 L351.8,391.9 L351.7,392.1 L351.7,392.4 L351.6,392.6 L351.6,392.8 L351.5,393.1 L351.4,393.3 L351.3,393.6 L351.1,393.8 L350.9,394.1 L350.7,394.4 L350.5,394.7 L350.2,395.1 L349.9,395.4 L349.4,395.8 L349.0,396.2 L348.4,396.7 L347.7,397.1 L347.0,397.6 L346.3,398.0 L345.5,398.4 L344.7,398.7 L344.0,398.9 L343.3,399.1 L342.7,399.3 L342.1,399.4 L341.6,399.5 L341.2,399.5 L340.8,399.5 L340.4,399.5 L340.1,399.5 L339.8,399.4 L339.5,399.4 L339.2,399.3 L339.0,399.2 L338.7,399.2 L338.5,399.1 L338.3,399.0 L338.1,398.9 L337.9,398.7 L337.8,398.6 L337.6,398.5 L337.4,398.4 L337.3,398.2 L337.2,398.1 L337.0,397.9 L336.9,397.8 L336.8,397.6 L336.7,397.4 L336.6,397.3 L336.5,397.1 L336.4,396.9 L336.4,396.7 L336.3,396.5 L336.3,396.3 L336.2,396.1 L336.2,395.9 L336.2,395.7 L336.2,395.5 L336.2,196.4 L336.2,196.0 L336.3,195.5 L336.4,194.9 L336.5,194.3 L336.7,193.7 L337.0,193.0 L337.3,192.3 L337.6,191.5 L338.1,190.7 L338.6,189.9 L339.1,189.1 L339.7,188.3 L340.3,187.6 L340.9,187.0 L341.5,186.4 L342.1,185.9 L342.6,185.5 L343.1,185.2 L343.6,184.9 L344.1,184.6 L344.5,184.4 L344.9,184.2 L345.3,184.1 L345.7,184.0 L346.0,183.9 L346.3,183.9 L346.6,183.8 L346.9,183.8 L347.2,183.8 L347.5,183.8 L347.7,183.8 L348.0,183.8 L348.2,183.9 L348.4,183.9 L348.7,184.0 L348.9,184.1 L349.1,184.2 L349.3,184.3 L349.5,184.4 L349.7,184.5 L349.9,184.6 L350.0,184.8 L350.2,184.9 L350.4,185.1 L350.5,185.2 L350.7,185.4 L350.8,185.6 L350.9,185.8 L351.1,186.0 L351.2,186.2 L351.3,186.4 L351.4,186.7 L351.5,186.9 L351.6,187.2 L351.6,187.5 L351.7,187.8 L351.7,188.2 L351.8,188.5Z" fill="url(#gbar)"/>
<ellipse cx="343.7" cy="187.1" rx="5.2" ry="1.5" transform="rotate(-33 343.7 187.1)" fill="#46601a" opacity="0.55"/>
<ellipse cx="342.6" cy="190.6" rx="3.8" ry="3.0" fill="url(#ghl)"/>
<text transform="translate(344.41 179.56) rotate(-90) scale(1.003 1.12)" font-family="Liberation Sans" font-weight="bold" font-size="15.2" fill="#000">21,1</text>
<path d="M370.0,326.8 L370.0,391.7 L370.0,391.9 L370.0,392.1 L369.9,392.4 L369.9,392.6 L369.8,392.8 L369.7,393.1 L369.6,393.3 L369.5,393.6 L369.4,393.8 L369.2,394.1 L369.0,394.4 L368.7,394.7 L368.5,395.1 L368.1,395.4 L367.7,395.8 L367.2,396.2 L366.7,396.7 L366.0,397.1 L365.3,397.6 L364.5,398.0 L363.7,398.4 L363.0,398.7 L362.2,398.9 L361.5,399.1 L360.9,399.3 L360.4,399.4 L359.9,399.5 L359.4,399.5 L359.0,399.5 L358.7,399.5 L358.3,399.5 L358.0,399.4 L357.7,399.4 L357.5,399.3 L357.2,399.2 L357.0,399.2 L356.8,399.1 L356.6,399.0 L356.4,398.9 L356.2,398.7 L356.0,398.6 L355.9,398.5 L355.7,398.4 L355.5,398.2 L355.4,398.1 L355.3,397.9 L355.2,397.8 L355.0,397.6 L354.9,397.4 L354.8,397.3 L354.8,397.1 L354.7,396.9 L354.6,396.7 L354.6,396.5 L354.5,396.3 L354.5,396.1 L354.4,395.9 L354.4,395.7 L354.4,395.5 L354.4,334.3 L354.5,333.9 L354.5,333.4 L354.6,332.8 L354.8,332.2 L355.0,331.6 L355.2,330.9 L355.5,330.1 L355.9,329.4 L356.3,328.6 L356.8,327.8 L357.4,327.0 L357.9,326.2 L358.5,325.5 L359.1,324.9 L359.7,324.3 L360.3,323.8 L360.9,323.4 L361.4,323.0 L361.9,322.7 L362.3,322.5 L362.8,322.3 L363.2,322.1 L363.6,322.0 L363.9,321.9 L364.2,321.8 L364.6,321.7 L364.9,321.7 L365.2,321.7 L365.4,321.7 L365.7,321.7 L366.0,321.7 L366.2,321.7 L366.5,321.8 L366.7,321.8 L366.9,321.9 L367.1,322.0 L367.3,322.1 L367.5,322.2 L367.7,322.3 L367.9,322.4 L368.1,322.5 L368.3,322.6 L368.5,322.8 L368.6,322.9 L368.8,323.1 L368.9,323.3 L369.1,323.5 L369.2,323.7 L369.3,323.9 L369.4,324.1 L369.6,324.3 L369.7,324.6 L369.7,324.8 L369.8,325.1 L369.9,325.4 L370.0,325.7 L370.0,326.0 L370.0,326.4Z" fill="url(#gbar)"/>
<ellipse cx="361.9" cy="325.0" rx="5.2" ry="1.5" transform="rotate(-33 361.9 325.0)" fill="#46601a" opacity="0.55"/>
<ellipse cx="360.8" cy="328.5" rx="3.8" ry="3.0" fill="url(#ghl)"/>
<text transform="translate(362.58 317.19) rotate(-90) scale(0.975 1.12)" font-family="Liberation Sans" font-weight="bold" font-size="15.2" fill="#000">7,2</text>
<path d="M388.3,302.0 L388.3,391.7 L388.3,391.9 L388.2,392.1 L388.2,392.4 L388.1,392.6 L388.1,392.8 L388.0,393.1 L387.9,393.3 L387.8,393.6 L387.6,393.8 L387.4,394.1 L387.2,394.4 L387.0,394.7 L386.7,395.1 L386.4,395.4 L386.0,395.8 L385.5,396.2 L384.9,396.7 L384.3,397.1 L383.5,397.6 L382.8,398.0 L382.0,398.4 L381.2,398.7 L380.5,398.9 L379.8,399.1 L379.2,399.3 L378.6,399.4 L378.1,399.5 L377.7,399.5 L377.3,399.5 L376.9,399.5 L376.6,399.5 L376.3,399.4 L376.0,399.4 L375.7,399.3 L375.5,399.2 L375.3,399.2 L375.0,399.1 L374.8,399.0 L374.6,398.9 L374.4,398.7 L374.3,398.6 L374.1,398.5 L373.9,398.4 L373.8,398.2 L373.7,398.1 L373.5,397.9 L373.4,397.8 L373.3,397.6 L373.2,397.4 L373.1,397.3 L373.0,397.1 L372.9,396.9 L372.9,396.7 L372.8,396.5 L372.8,396.3 L372.7,396.1 L372.7,395.9 L372.7,395.7 L372.7,395.5 L372.7,309.5 L372.7,309.1 L372.8,308.6 L372.9,308.0 L373.0,307.4 L373.2,306.8 L373.5,306.1 L373.8,305.3 L374.2,304.6 L374.6,303.8 L375.1,303.0 L375.6,302.2 L376.2,301.4 L376.8,300.7 L377.4,300.1 L378.0,299.5 L378.6,299.0 L379.1,298.6 L379.6,298.2 L380.1,297.9 L380.6,297.7 L381.0,297.5 L381.4,297.3 L381.8,297.2 L382.2,297.1 L382.5,297.0 L382.8,296.9 L383.1,296.9 L383.4,296.9 L383.7,296.9 L384.0,296.9 L384.2,296.9 L384.5,296.9 L384.7,297.0 L384.9,297.0 L385.2,297.1 L385.4,297.2 L385.6,297.3 L385.8,297.4 L386.0,297.5 L386.2,297.6 L386.4,297.7 L386.5,297.8 L386.7,298.0 L386.9,298.1 L387.0,298.3 L387.2,298.5 L387.3,298.7 L387.5,298.9 L387.6,299.1 L387.7,299.3 L387.8,299.5 L387.9,299.8 L388.0,300.0 L388.1,300.3 L388.2,300.6 L388.2,300.9 L388.3,301.2 L388.3,301.6Z" fill="url(#gbar)"/>
<ellipse cx="380.2" cy="300.2" rx="5.2" ry="1.5" transform="rotate(-33 380.2 300.2)" fill="#46601a" opacity="0.55"/>
<ellipse cx="379.1" cy="303.7" rx="3.8" ry="3.0" fill="url(#ghl)"/>
<text transform="translate(380.76 292.27) rotate(-90) scale(0.965 1.12)" font-family="Liberation Sans" font-weight="bold" font-size="15.2" fill="#000">9,7</text>
<path d="M406.6,346.6 L406.5,391.7 L406.5,391.9 L406.5,392.1 L406.5,392.4 L406.4,392.6 L406.3,392.8 L406.2,393.1 L406.1,393.3 L406.0,393.6 L405.9,393.8 L405.7,394.1 L405.5,394.4 L405.3,394.7 L405.0,395.1 L404.6,395.4 L404.2,395.8 L403.7,396.2 L403.2,396.7 L402.5,397.1 L401.8,397.6 L401.0,398.0 L400.2,398.4 L399.5,398.7 L398.7,398.9 L398.0,399.1 L397.4,399.3 L396.9,399.4 L396.4,399.5 L395.9,399.5 L395.5,399.5 L395.2,399.5 L394.8,399.5 L394.5,399.4 L394.3,399.4 L394.0,399.3 L393.7,399.2 L393.5,399.2 L393.3,399.1 L393.1,399.0 L392.9,398.9 L392.7,398.7 L392.5,398.6 L392.4,398.5 L392.2,398.4 L392.1,398.2 L391.9,398.1 L391.8,397.9 L391.7,397.8 L391.6,397.6 L391.4,397.4 L391.4,397.3 L391.3,397.1 L391.2,396.9 L391.1,396.7 L391.1,396.5 L391.0,396.3 L391.0,396.1 L391.0,395.9 L390.9,395.7 L390.9,354.6 L390.9,354.2 L391.0,353.7 L391.1,353.2 L391.2,352.7 L391.3,352.1 L391.5,351.4 L391.7,350.7 L392.0,350.0 L392.4,349.2 L392.8,348.4 L393.3,347.6 L393.9,346.8 L394.5,346.1 L395.1,345.4 L395.7,344.7 L396.3,344.2 L396.8,343.7 L397.4,343.2 L397.9,342.9 L398.4,342.6 L398.8,342.3 L399.3,342.1 L399.7,342.0 L400.1,341.8 L400.4,341.7 L400.8,341.6 L401.1,341.6 L401.4,341.5 L401.7,341.5 L402.0,341.5 L402.2,341.5 L402.5,341.5 L402.7,341.6 L403.0,341.6 L403.2,341.7 L403.4,341.7 L403.6,341.8 L403.9,341.9 L404.1,342.0 L404.3,342.1 L404.4,342.2 L404.6,342.4 L404.8,342.5 L405.0,342.6 L405.1,342.8 L405.3,342.9 L405.4,343.1 L405.6,343.3 L405.7,343.5 L405.8,343.7 L406.0,343.9 L406.1,344.2 L406.2,344.4 L406.3,344.7 L406.3,344.9 L406.4,345.2 L406.5,345.5 L406.5,345.9 L406.5,346.2Z" fill="url(#gbar)"/>
<ellipse cx="398.4" cy="344.8" rx="5.2" ry="1.5" transform="rotate(-33 398.4 344.8)" fill="#46601a" opacity="0.55"/>
<ellipse cx="397.3" cy="348.3" rx="3.8" ry="3.0" fill="url(#ghl)"/>
<text transform="translate(398.93 336.76) rotate(-90) scale(0.965 1.12)" font-family="Liberation Sans" font-weight="bold" font-size="15.2" fill="#000">5,2</text>
<path d="M424.8,257.4 L424.8,391.7 L424.8,391.9 L424.8,392.1 L424.7,392.4 L424.7,392.6 L424.6,392.8 L424.5,393.1 L424.4,393.3 L424.3,393.6 L424.1,393.8 L424.0,394.1 L423.8,394.4 L423.5,394.7 L423.2,395.1 L422.9,395.4 L422.5,395.8 L422.0,396.2 L421.4,396.7 L420.8,397.1 L420.1,397.6 L419.3,398.0 L418.5,398.4 L417.7,398.7 L417.0,398.9 L416.3,399.1 L415.7,399.3 L415.1,399.4 L414.6,399.5 L414.2,399.5 L413.8,399.5 L413.4,399.5 L413.1,399.5 L412.8,399.4 L412.5,399.4 L412.2,399.3 L412.0,399.2 L411.8,399.2 L411.5,399.1 L411.3,399.0 L411.1,398.9 L411.0,398.7 L410.8,398.6 L410.6,398.5 L410.5,398.4 L410.3,398.2 L410.2,398.1 L410.0,397.9 L409.9,397.8 L409.8,397.6 L409.7,397.4 L409.6,397.3 L409.5,397.1 L409.4,396.9 L409.4,396.7 L409.3,396.5 L409.3,396.3 L409.2,396.1 L409.2,395.9 L409.2,395.7 L409.2,395.5 L409.2,264.9 L409.2,264.4 L409.3,263.9 L409.4,263.4 L409.6,262.8 L409.7,262.1 L410.0,261.4 L410.3,260.7 L410.7,259.9 L411.1,259.1 L411.6,258.3 L412.1,257.5 L412.7,256.8 L413.3,256.1 L413.9,255.4 L414.5,254.9 L415.1,254.4 L415.6,254.0 L416.2,253.6 L416.6,253.3 L417.1,253.1 L417.5,252.9 L417.9,252.7 L418.3,252.6 L418.7,252.4 L419.0,252.4 L419.3,252.3 L419.6,252.3 L419.9,252.2 L420.2,252.2 L420.5,252.2 L420.7,252.3 L421.0,252.3 L421.2,252.3 L421.5,252.4 L421.7,252.5 L421.9,252.5 L422.1,252.6 L422.3,252.7 L422.5,252.8 L422.7,252.9 L422.9,253.1 L423.1,253.2 L423.2,253.4 L423.4,253.5 L423.5,253.7 L423.7,253.8 L423.8,254.0 L424.0,254.2 L424.1,254.4 L424.2,254.6 L424.3,254.9 L424.4,255.1 L424.5,255.4 L424.6,255.7 L424.7,256.0 L424.7,256.3 L424.8,256.6 L424.8,257.0Z" fill="url(#gbar)"/>
<ellipse cx="416.7" cy="255.5" rx="5.2" ry="1.5" transform="rotate(-33 416.7 255.5)" fill="#46601a" opacity="0.55"/>
<ellipse cx="415.6" cy="259.0" rx="3.8" ry="3.0" fill="url(#ghl)"/>
<text transform="translate(417.10 248.32) rotate(-90) scale(1.029 1.12)" font-family="Liberation Sans" font-weight="bold" font-size="15.2" fill="#000">14,2</text>
<path d="M443.1,381.4 L443.1,391.7 L443.0,391.9 L443.0,392.1 L443.0,392.4 L442.9,392.6 L442.8,392.8 L442.8,393.1 L442.7,393.3 L442.5,393.6 L442.4,393.8 L442.2,394.1 L442.0,394.4 L441.8,394.7 L441.5,395.1 L441.1,395.4 L440.7,395.8 L440.2,396.2 L439.7,396.7 L439.0,397.1 L438.3,397.6 L437.5,398.0 L436.8,398.4 L436.0,398.7 L435.2,398.9 L434.6,399.1 L433.9,399.3 L433.4,399.4 L432.9,399.5 L432.4,399.5 L432.0,399.5 L431.7,399.5 L431.3,399.5 L431.0,399.4 L430.8,399.4 L430.5,399.3 L430.3,399.2 L430.0,399.2 L429.8,399.1 L429.6,399.0 L429.4,398.9 L429.2,398.7 L429.0,398.6 L428.9,398.5 L428.7,398.4 L428.6,398.2 L428.4,398.1 L428.3,397.9 L428.2,397.8 L428.1,397.6 L428.0,397.4 L427.9,397.3 L427.8,397.1 L427.7,396.9 L427.6,396.7 L427.6,396.5 L427.5,396.3 L427.5,396.1 L427.5,395.9 L427.5,395.7 L427.4,389.3 L427.5,388.9 L427.5,388.4 L427.6,387.9 L427.7,387.4 L427.8,386.8 L428.0,386.1 L428.2,385.4 L428.5,384.7 L428.9,383.9 L429.4,383.1 L429.8,382.3 L430.4,381.5 L431.0,380.8 L431.6,380.1 L432.2,379.4 L432.8,378.9 L433.3,378.4 L433.9,378.0 L434.4,377.6 L434.9,377.3 L435.4,377.1 L435.8,376.9 L436.2,376.7 L436.6,376.6 L436.9,376.4 L437.3,376.4 L437.6,376.3 L437.9,376.3 L438.2,376.2 L438.5,376.2 L438.7,376.2 L439.0,376.3 L439.2,376.3 L439.5,376.3 L439.7,376.4 L439.9,376.5 L440.2,376.5 L440.4,376.6 L440.6,376.7 L440.8,376.8 L441.0,376.9 L441.1,377.1 L441.3,377.2 L441.5,377.4 L441.6,377.5 L441.8,377.7 L441.9,377.8 L442.1,378.0 L442.2,378.2 L442.3,378.4 L442.5,378.6 L442.6,378.9 L442.7,379.1 L442.8,379.4 L442.9,379.7 L442.9,380.0 L443.0,380.3 L443.0,380.6 L443.1,381.0Z" fill="url(#gsmall)"/>
<ellipse cx="435.0" cy="379.5" rx="5.2" ry="1.5" transform="rotate(-33 435.0 379.5)" fill="#46601a" opacity="0.55"/>
<ellipse cx="433.9" cy="383.0" rx="3.8" ry="3.0" fill="url(#ghl)"/>
<text transform="translate(435.27 371.88) rotate(-90) scale(0.990 1.12)" font-family="Liberation Sans" font-weight="bold" font-size="15.2" fill="#000">1,7</text>
<path d="M461.3,330.8 L461.3,391.7 L461.3,391.9 L461.3,392.1 L461.2,392.4 L461.2,392.6 L461.1,392.8 L461.0,393.1 L460.9,393.3 L460.8,393.6 L460.6,393.8 L460.5,394.1 L460.3,394.4 L460.0,394.7 L459.7,395.1 L459.4,395.4 L459.0,395.8 L458.5,396.2 L457.9,396.7 L457.3,397.1 L456.6,397.6 L455.8,398.0 L455.0,398.4 L454.2,398.7 L453.5,398.9 L452.8,399.1 L452.2,399.3 L451.6,399.4 L451.1,399.5 L450.7,399.5 L450.3,399.5 L449.9,399.5 L449.6,399.5 L449.3,399.4 L449.0,399.4 L448.8,399.3 L448.5,399.2 L448.3,399.2 L448.1,399.1 L447.9,399.0 L447.7,398.9 L447.5,398.7 L447.3,398.6 L447.1,398.5 L447.0,398.4 L446.8,398.2 L446.7,398.1 L446.6,397.9 L446.4,397.8 L446.3,397.6 L446.2,397.4 L446.1,397.3 L446.0,397.1 L446.0,396.9 L445.9,396.7 L445.8,396.5 L445.8,396.3 L445.8,396.1 L445.7,395.9 L445.7,395.7 L445.7,395.5 L445.7,338.3 L445.8,337.8 L445.8,337.3 L445.9,336.8 L446.1,336.2 L446.3,335.5 L446.5,334.9 L446.8,334.1 L447.2,333.3 L447.6,332.5 L448.1,331.7 L448.6,330.9 L449.2,330.2 L449.8,329.5 L450.4,328.9 L451.0,328.3 L451.6,327.8 L452.1,327.4 L452.7,327.0 L453.2,326.7 L453.6,326.5 L454.0,326.3 L454.4,326.1 L454.8,326.0 L455.2,325.9 L455.5,325.8 L455.8,325.7 L456.1,325.7 L456.4,325.7 L456.7,325.6 L457.0,325.7 L457.2,325.7 L457.5,325.7 L457.7,325.7 L458.0,325.8 L458.2,325.9 L458.4,325.9 L458.6,326.0 L458.8,326.1 L459.0,326.2 L459.2,326.4 L459.4,326.5 L459.6,326.6 L459.7,326.8 L459.9,326.9 L460.1,327.1 L460.2,327.3 L460.3,327.4 L460.5,327.6 L460.6,327.8 L460.7,328.1 L460.8,328.3 L460.9,328.5 L461.0,328.8 L461.1,329.1 L461.2,329.4 L461.2,329.7 L461.3,330.0 L461.3,330.4Z" fill="url(#gbar)"/>
<ellipse cx="453.2" cy="328.9" rx="5.2" ry="1.5" transform="rotate(-33 453.2 328.9)" fill="#46601a" opacity="0.55"/>
<ellipse cx="452.1" cy="332.4" rx="3.8" ry="3.0" fill="url(#ghl)"/>
<text transform="translate(453.45 321.04) rotate(-90) scale(0.960 1.12)" font-family="Liberation Sans" font-weight="bold" font-size="15.2" fill="#000">6,8</text>
<path d="M479.6,166.1 L479.6,391.7 L479.6,391.9 L479.5,392.1 L479.5,392.4 L479.4,392.6 L479.4,392.8 L479.3,393.1 L479.2,393.3 L479.0,393.6 L478.9,393.8 L478.7,394.1 L478.5,394.4 L478.3,394.7 L478.0,395.1 L477.6,395.4 L477.2,395.8 L476.7,396.2 L476.2,396.7 L475.5,397.1 L474.8,397.6 L474.1,398.0 L473.3,398.4 L472.5,398.7 L471.7,398.9 L471.1,399.1 L470.4,399.3 L469.9,399.4 L469.4,399.5 L469.0,399.5 L468.6,399.5 L468.2,399.5 L467.9,399.5 L467.6,399.4 L467.3,399.4 L467.0,399.3 L466.8,399.2 L466.5,399.2 L466.3,399.1 L466.1,399.0 L465.9,398.9 L465.7,398.7 L465.5,398.6 L465.4,398.5 L465.2,398.4 L465.1,398.2 L464.9,398.1 L464.8,397.9 L464.7,397.8 L464.6,397.6 L464.5,397.4 L464.4,397.3 L464.3,397.1 L464.2,396.9 L464.1,396.7 L464.1,396.5 L464.0,396.3 L464.0,396.1 L464.0,395.9 L464.0,395.7 L464.0,395.5 L464.0,173.6 L464.0,173.2 L464.1,172.7 L464.2,172.1 L464.3,171.5 L464.5,170.9 L464.8,170.2 L465.1,169.4 L465.4,168.7 L465.9,167.9 L466.4,167.1 L466.9,166.3 L467.5,165.5 L468.1,164.8 L468.7,164.2 L469.3,163.6 L469.9,163.1 L470.4,162.7 L470.9,162.3 L471.4,162.0 L471.9,161.8 L472.3,161.6 L472.7,161.4 L473.1,161.3 L473.4,161.2 L473.8,161.1 L474.1,161.0 L474.4,161.0 L474.7,161.0 L475.0,161.0 L475.2,161.0 L475.5,161.0 L475.7,161.0 L476.0,161.1 L476.2,161.1 L476.4,161.2 L476.7,161.3 L476.9,161.4 L477.1,161.5 L477.3,161.6 L477.5,161.7 L477.6,161.8 L477.8,161.9 L478.0,162.1 L478.2,162.2 L478.3,162.4 L478.5,162.6 L478.6,162.8 L478.7,163.0 L478.9,163.2 L479.0,163.4 L479.1,163.6 L479.2,163.9 L479.3,164.1 L479.4,164.4 L479.4,164.7 L479.5,165.0 L479.5,165.3 L479.6,165.7Z" fill="url(#gbar)"/>
<ellipse cx="471.5" cy="164.3" rx="5.2" ry="1.5" transform="rotate(-33 471.5 164.3)" fill="#46601a" opacity="0.55"/>
<ellipse cx="470.4" cy="167.8" rx="3.8" ry="3.0" fill="url(#ghl)"/>
<text transform="translate(471.62 156.82) rotate(-90) scale(0.993 1.12)" font-family="Liberation Sans" font-weight="bold" font-size="15.2" fill="#000">23,4</text>
<path d="M497.8,334.7 L497.8,391.7 L497.8,391.9 L497.8,392.1 L497.7,392.4 L497.7,392.6 L497.6,392.8 L497.5,393.1 L497.4,393.3 L497.3,393.6 L497.2,393.8 L497.0,394.1 L496.8,394.4 L496.5,394.7 L496.2,395.1 L495.9,395.4 L495.5,395.8 L495.0,396.2 L494.4,396.7 L493.8,397.1 L493.1,397.6 L492.3,398.0 L491.5,398.4 L490.7,398.7 L490.0,398.9 L489.3,399.1 L488.7,399.3 L488.1,399.4 L487.6,399.5 L487.2,399.5 L486.8,399.5 L486.4,399.5 L486.1,399.5 L485.8,399.4 L485.5,399.4 L485.3,399.3 L485.0,399.2 L484.8,399.2 L484.6,399.1 L484.4,399.0 L484.2,398.9 L484.0,398.7 L483.8,398.6 L483.6,398.5 L483.5,398.4 L483.3,398.2 L483.2,398.1 L483.1,397.9 L482.9,397.8 L482.8,397.6 L482.7,397.4 L482.6,397.3 L482.5,397.1 L482.5,396.9 L482.4,396.7 L482.3,396.5 L482.3,396.3 L482.3,396.1 L482.2,395.9 L482.2,395.7 L482.2,395.5 L482.2,342.3 L482.3,341.8 L482.3,341.3 L482.4,340.8 L482.6,340.2 L482.8,339.5 L483.0,338.8 L483.3,338.1 L483.7,337.3 L484.1,336.5 L484.6,335.7 L485.2,334.9 L485.7,334.2 L486.3,333.5 L486.9,332.8 L487.5,332.3 L488.1,331.8 L488.7,331.3 L489.2,331.0 L489.7,330.7 L490.1,330.4 L490.6,330.2 L491.0,330.1 L491.3,329.9 L491.7,329.8 L492.0,329.7 L492.4,329.7 L492.7,329.6 L493.0,329.6 L493.2,329.6 L493.5,329.6 L493.8,329.6 L494.0,329.7 L494.2,329.7 L494.5,329.8 L494.7,329.8 L494.9,329.9 L495.1,330.0 L495.3,330.1 L495.5,330.2 L495.7,330.3 L495.9,330.4 L496.1,330.6 L496.2,330.7 L496.4,330.9 L496.6,331.0 L496.7,331.2 L496.9,331.4 L497.0,331.6 L497.1,331.8 L497.2,332.0 L497.3,332.3 L497.4,332.5 L497.5,332.8 L497.6,333.0 L497.7,333.3 L497.7,333.6 L497.8,334.0 L497.8,334.3Z" fill="url(#gbar)"/>
<ellipse cx="489.7" cy="332.9" rx="5.2" ry="1.5" transform="rotate(-33 489.7 332.9)" fill="#46601a" opacity="0.55"/>
<ellipse cx="488.6" cy="336.4" rx="3.8" ry="3.0" fill="url(#ghl)"/>
<text transform="translate(489.79 324.98) rotate(-90) scale(0.946 1.12)" font-family="Liberation Sans" font-weight="bold" font-size="15.2" fill="#000">6,4</text>
<ellipse cx="508.3" cy="394.6" rx="8.6" ry="3.3" transform="rotate(-27.0 508.3 394.6)" fill="#5d7b29"/>
<text transform="translate(507.96 388.28) rotate(-90) scale(0.970 1.12)" font-family="Liberation Sans" font-weight="bold" font-size="15.2" fill="#000">0,0</text>
<ellipse cx="526.5" cy="394.6" rx="8.6" ry="3.3" transform="rotate(-27.0 526.5 394.6)" fill="#5d7b29"/>
<text transform="translate(526.14 388.28) rotate(-90) scale(0.970 1.12)" font-family="Liberation Sans" font-weight="bold" font-size="15.2" fill="#000">0,0</text>
<ellipse cx="544.8" cy="394.6" rx="8.6" ry="3.3" transform="rotate(-27.0 544.8 394.6)" fill="#5d7b29"/>
<text transform="translate(544.31 388.28) rotate(-90) scale(0.970 1.12)" font-family="Liberation Sans" font-weight="bold" font-size="15.2" fill="#000">0,0</text>
<ellipse cx="563.0" cy="394.6" rx="8.6" ry="3.3" transform="rotate(-27.0 563.0 394.6)" fill="#5d7b29"/>
<text transform="translate(562.48 388.28) rotate(-90) scale(0.970 1.12)" font-family="Liberation Sans" font-weight="bold" font-size="15.2" fill="#000">0,0</text>
<ellipse cx="581.3" cy="394.6" rx="8.6" ry="3.3" transform="rotate(-27.0 581.3 394.6)" fill="#5d7b29"/>
<text transform="translate(580.65 388.28) rotate(-90) scale(0.970 1.12)" font-family="Liberation Sans" font-weight="bold" font-size="15.2" fill="#000">0,0</text>
<ellipse cx="599.6" cy="394.6" rx="8.6" ry="3.3" transform="rotate(-27.0 599.6 394.6)" fill="#5d7b29"/>
<text transform="translate(598.83 388.28) rotate(-90) scale(0.970 1.12)" font-family="Liberation Sans" font-weight="bold" font-size="15.2" fill="#000">0,0</text>
<path d="M625.6,391.4 L625.6,391.6 L625.6,391.7 L625.6,391.9 L625.5,392.1 L625.5,392.3 L625.4,392.4 L625.4,392.6 L625.3,392.9 L625.2,393.1 L625.0,393.3 L624.9,393.6 L624.7,393.9 L624.4,394.2 L624.1,394.5 L623.8,394.9 L623.3,395.3 L622.8,395.8 L622.2,396.3 L621.4,396.8 L620.6,397.3 L619.7,397.8 L618.8,398.2 L617.9,398.6 L617.1,398.9 L616.3,399.1 L615.6,399.3 L615.0,399.4 L614.5,399.5 L614.1,399.5 L613.7,399.5 L613.3,399.5 L613.0,399.5 L612.7,399.4 L612.5,399.4 L612.3,399.3 L612.1,399.3 L611.9,399.2 L611.7,399.1 L611.5,399.1 L611.4,399.0 L611.2,398.9 L611.1,398.8 L611.0,398.7 L610.9,398.6 L610.8,398.5 L610.7,398.4 L610.6,398.3 L610.5,398.2 L610.4,398.1 L610.4,398.0 L610.3,397.8 L610.2,397.7 L610.2,397.6 L610.1,397.5 L610.1,397.3 L610.1,397.2 L610.0,397.1 L610.0,396.9 L610.0,396.8 L610.0,396.6 L610.0,396.5 L610.0,396.3 L610.0,396.1 L610.1,396.0 L610.1,395.8 L610.2,395.6 L610.2,395.4 L610.3,395.2 L610.4,394.9 L610.6,394.7 L610.7,394.4 L610.9,394.1 L611.2,393.8 L611.5,393.5 L611.8,393.1 L612.3,392.7 L612.8,392.2 L613.4,391.7 L614.2,391.2 L615.0,390.7 L615.9,390.3 L616.8,389.8 L617.7,389.4 L618.5,389.1 L619.3,388.9 L620.0,388.8 L620.6,388.6 L621.1,388.6 L621.6,388.5 L622.0,388.5 L622.3,388.5 L622.6,388.6 L622.9,388.6 L623.1,388.6 L623.4,388.7 L623.6,388.8 L623.7,388.8 L623.9,388.9 L624.1,389.0 L624.2,389.1 L624.4,389.1 L624.5,389.2 L624.6,389.3 L624.7,389.4 L624.8,389.5 L624.9,389.6 L625.0,389.7 L625.1,389.8 L625.2,389.9 L625.3,390.1 L625.3,390.2 L625.4,390.3 L625.4,390.4 L625.5,390.6 L625.5,390.7 L625.6,390.8 L625.6,391.0 L625.6,391.1 L625.6,391.3Z" fill="url(#gsmall)"/>
<text transform="translate(617.00 384.31) rotate(-90) scale(0.946 1.12)" font-family="Liberation Sans" font-weight="bold" font-size="15.2" fill="#000">0,4</text>
<path d="M643.9,386.4 L643.9,391.7 L643.8,391.9 L643.8,392.1 L643.8,392.4 L643.7,392.6 L643.7,392.8 L643.6,393.1 L643.5,393.3 L643.3,393.6 L643.2,393.8 L643.0,394.1 L642.8,394.4 L642.6,394.7 L642.3,395.1 L641.9,395.4 L641.5,395.8 L641.0,396.2 L640.5,396.7 L639.8,397.1 L639.1,397.6 L638.3,398.0 L637.6,398.4 L636.8,398.7 L636.0,398.9 L635.4,399.1 L634.7,399.3 L634.2,399.4 L633.7,399.5 L633.2,399.5 L632.9,399.5 L632.5,399.5 L632.2,399.5 L631.9,399.4 L631.6,399.4 L631.3,399.3 L631.1,399.2 L630.8,399.2 L630.6,399.1 L630.4,399.0 L630.2,398.9 L630.0,398.7 L629.8,398.6 L629.7,398.5 L629.5,398.4 L629.4,398.2 L629.2,398.1 L629.1,397.9 L629.0,397.8 L628.9,397.6 L628.8,397.4 L628.7,397.3 L628.6,397.1 L628.5,396.9 L628.4,396.7 L628.4,396.5 L628.3,396.3 L628.3,396.1 L628.3,395.9 L628.3,395.7 L628.3,394.4 L628.3,394.0 L628.3,393.5 L628.4,393.0 L628.5,392.4 L628.6,391.8 L628.8,391.2 L629.1,390.5 L629.4,389.8 L629.7,389.0 L630.2,388.2 L630.7,387.4 L631.2,386.6 L631.8,385.8 L632.4,385.1 L633.0,384.5 L633.6,383.9 L634.1,383.5 L634.7,383.0 L635.2,382.7 L635.7,382.4 L636.2,382.1 L636.6,381.9 L637.0,381.8 L637.4,381.6 L637.7,381.5 L638.1,381.4 L638.4,381.4 L638.7,381.3 L639.0,381.3 L639.3,381.3 L639.5,381.3 L639.8,381.3 L640.0,381.4 L640.3,381.4 L640.5,381.5 L640.7,381.5 L641.0,381.6 L641.2,381.7 L641.4,381.8 L641.6,381.9 L641.8,382.0 L641.9,382.1 L642.1,382.3 L642.3,382.4 L642.4,382.6 L642.6,382.7 L642.8,382.9 L642.9,383.1 L643.0,383.3 L643.2,383.5 L643.3,383.7 L643.4,383.9 L643.5,384.2 L643.6,384.4 L643.7,384.7 L643.7,385.0 L643.8,385.3 L643.8,385.7 L643.9,386.0Z" fill="url(#gsmall)"/>
<text transform="translate(635.17 379.38) rotate(-90) scale(0.965 1.12)" font-family="Liberation Sans" font-weight="bold" font-size="15.2" fill="#000">0,9</text>
<path d="M662.1,391.4 L662.1,391.5 L662.1,391.7 L662.1,391.8 L662.1,392.0 L662.0,392.2 L662.0,392.3 L661.9,392.5 L661.8,392.7 L661.7,392.9 L661.6,393.2 L661.4,393.4 L661.2,393.7 L661.0,394.0 L660.7,394.4 L660.3,394.8 L659.9,395.2 L659.3,395.7 L658.7,396.2 L657.9,396.7 L657.1,397.2 L656.1,397.7 L655.2,398.2 L654.3,398.6 L653.4,398.9 L652.6,399.1 L651.9,399.3 L651.3,399.4 L650.8,399.5 L650.3,399.5 L649.9,399.5 L649.6,399.5 L649.3,399.5 L649.0,399.4 L648.8,399.4 L648.5,399.3 L648.3,399.3 L648.2,399.2 L648.0,399.2 L647.9,399.1 L647.7,399.0 L647.6,398.9 L647.5,398.9 L647.4,398.8 L647.3,398.7 L647.2,398.6 L647.1,398.5 L647.0,398.4 L647.0,398.3 L646.9,398.2 L646.8,398.1 L646.8,398.0 L646.7,397.9 L646.7,397.8 L646.6,397.7 L646.6,397.6 L646.6,397.4 L646.5,397.3 L646.5,397.2 L646.5,397.1 L646.5,396.9 L646.5,396.8 L646.5,396.6 L646.5,396.5 L646.6,396.3 L646.6,396.2 L646.7,396.0 L646.7,395.8 L646.8,395.6 L646.9,395.4 L647.0,395.1 L647.2,394.9 L647.4,394.6 L647.6,394.3 L647.9,393.9 L648.3,393.6 L648.8,393.1 L649.3,392.7 L650.0,392.2 L650.7,391.6 L651.6,391.1 L652.5,390.6 L653.5,390.2 L654.4,389.8 L655.2,389.5 L656.0,389.2 L656.7,389.1 L657.4,388.9 L657.9,388.9 L658.3,388.8 L658.7,388.8 L659.1,388.8 L659.4,388.9 L659.6,388.9 L659.9,388.9 L660.1,389.0 L660.3,389.0 L660.5,389.1 L660.6,389.2 L660.8,389.2 L660.9,389.3 L661.0,389.4 L661.1,389.5 L661.3,389.6 L661.4,389.6 L661.4,389.7 L661.5,389.8 L661.6,389.9 L661.7,390.0 L661.8,390.1 L661.8,390.2 L661.9,390.3 L661.9,390.4 L662.0,390.5 L662.0,390.6 L662.0,390.8 L662.1,390.9 L662.1,391.0 L662.1,391.1 L662.1,391.3Z" fill="url(#gsmall)"/>
<text transform="translate(653.34 385.31) rotate(-90) scale(0.965 1.12)" font-family="Liberation Sans" font-weight="bold" font-size="15.2" fill="#000">0,3</text>
<rect x="358.1" y="475.0" width="12.8" height="12.7" fill="#5a7629"/>
<polygon points="358.1,475.0 370.9,475.0 367.9,478.0 361.1,478.0" fill="#6e8e33"/>
<polygon points="358.1,475.0 361.1,478.0 361.1,484.7 358.1,487.7" fill="#587429"/>
<polygon points="370.9,475.0 370.9,487.7 367.9,484.7 367.9,478.0" fill="#27330f"/>
<polygon points="358.1,487.7 370.9,487.7 367.9,484.7 361.1,484.7" fill="#7fa045"/>
<rect x="361.1" y="478.0" width="6.8" height="6.7" fill="#7a9a3e"/>
<rect x="361.1" y="483.1" width="6.8" height="1.6" fill="#4f6a22"/>
<g font-family="Liberation Sans" font-size="17.5" fill="#000"><text transform="translate(375.74 487.8) scale(0.807 1.06)">F</text><text transform="translate(385.58 487.8) scale(0.780 1.06)">E</text><text transform="translate(395.43 487.8) scale(0.955 1.06)">V</text><text transform="translate(407.65 487.8) scale(0.799 1.06)">R</text><text transform="translate(418.12 487.8) scale(1.000 1.06)">I</text><text transform="translate(423.84 487.8) scale(0.738 1.06)">E</text><text transform="translate(433.71 487.8) scale(0.828 1.06)">R</text></g>
</svg>
</body></html>
